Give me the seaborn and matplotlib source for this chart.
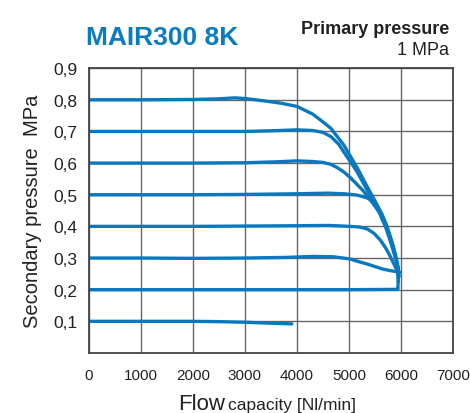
#!/usr/bin/env python3
"""
Curvas de vazão do regulador MAIR300 8K (pressão primária 1 MPa)
"""

import pandas as pd
import matplotlib
matplotlib.use('Agg')
import matplotlib.pyplot as plt
import seaborn as sns

# Valores (vazão Nl/min, pressão MPa)
flow_08 = [0, 1000, 2000, 2500, 2800, 3000, 3350, 3700, 4000, 4300, 4500, 4650, 4900, 5150, 5400,
           5550, 5700, 5820, 5900, 5940, 5950]
pres_08 = [0.800, 0.800, 0.801, 0.803, 0.806, 0.804, 0.797, 0.789, 0.779, 0.755, 0.730, 0.710, 0.657,
           0.587, 0.510, 0.465, 0.410, 0.350, 0.300, 0.260, 0.225]

flow_07 = [0, 1000, 2000, 3000, 3500, 4000, 4300, 4500, 4650, 4800, 4900, 5150, 5400, 5550, 5700,
           5820, 5910, 5940]
pres_07 = [0.700, 0.700, 0.700, 0.700, 0.702, 0.705, 0.703, 0.697, 0.684, 0.660, 0.635, 0.574, 0.500,
           0.455, 0.400, 0.340, 0.290, 0.250]

flow_06 = [0, 1000, 2000, 3000, 3600, 4000, 4300, 4500, 4650, 4770, 4900, 5020, 5270, 5450, 5600,
           5730, 5850, 5930, 5950]
pres_06 = [0.600, 0.600, 0.600, 0.601, 0.604, 0.607, 0.605, 0.602, 0.596, 0.586, 0.572, 0.555, 0.513,
           0.475, 0.440, 0.390, 0.335, 0.280, 0.240]

flow_05 = [0, 1000, 2000, 3000, 4000, 4600, 4900, 5150, 5350, 5450, 5540, 5630, 5730, 5800, 5850,
           5900, 5940, 5960]
pres_05 = [0.500, 0.500, 0.500, 0.501, 0.503, 0.505, 0.503, 0.499, 0.490, 0.480, 0.465, 0.440, 0.400,
           0.365, 0.337, 0.305, 0.274, 0.243]

flow_04 = [0, 1000, 2000, 3000, 4000, 4600, 5020, 5200, 5350, 5480, 5600, 5700, 5790, 5880, 5940, 5960]
pres_04 = [0.400, 0.400, 0.400, 0.401, 0.402, 0.403, 0.400, 0.398, 0.392, 0.378, 0.357, 0.333, 0.306,
           0.275, 0.255, 0.240]

flow_03 = [0, 1000, 2000, 3000, 3800, 4300, 4700, 5020, 5200, 5350, 5500, 5650, 5800, 5980]
pres_03 = [0.300, 0.300, 0.299, 0.300, 0.302, 0.305, 0.304, 0.297, 0.288, 0.281, 0.273, 0.265, 0.260, 0.255]

flow_02 = [0, 1000, 2000, 3000, 4000, 5000, 5900, 5940, 5950]
pres_02 = [0.200, 0.200, 0.200, 0.200, 0.200, 0.200, 0.201, 0.202, 0.270]

flow_01 = [0, 1000, 2000, 2500, 3000, 3500, 3900]
pres_01 = [0.100, 0.100, 0.100, 0.099, 0.097, 0.094, 0.092]

series = {
    '0,8': (flow_08, pres_08), '0,7': (flow_07, pres_07), '0,6': (flow_06, pres_06),
    '0,5': (flow_05, pres_05), '0,4': (flow_04, pres_04), '0,3': (flow_03, pres_03),
    '0,2': (flow_02, pres_02), '0,1': (flow_01, pres_01),
}

x_ticks = [0, 1000, 2000, 3000, 4000, 5000, 6000, 7000]
y_ticks = [0.1, 0.2, 0.3, 0.4, 0.5, 0.6, 0.7, 0.8, 0.9]
y_tick_labels = ['0,1', '0,2', '0,3', '0,4', '0,5', '0,6', '0,7', '0,8', '0,9']

LINE_COLOR = '#0a78be'

rows = []
for name, (xs, ys) in series.items():
    for x, y in zip(xs, ys):
        rows.append({'curva': name, 'vazao': x, 'pressao': y})
df = pd.DataFrame(rows)

sns.set_style('white')
plt.rcParams['font.family'] = ['Liberation Sans', 'DejaVu Sans']

fig = plt.figure(figsize=(4.7, 4.14), dpi=100)
ax = fig.add_axes([0.189, 0.145, 0.775, 0.688])

sns.lineplot(data=df, x='vazao', y='pressao', units='curva', estimator=None, sort=False,
             color=LINE_COLOR, linewidth=2.4, ax=ax, legend=False)

ax.set_xlim(0, 7000)
ax.set_ylim(0, 0.9)
ax.set_xticks(x_ticks)
ax.set_xticklabels([str(t) for t in x_ticks], fontsize=11)
ax.set_yticks(y_ticks)
ax.set_yticklabels(y_tick_labels, fontsize=12.5)
ax.tick_params(length=0, colors='#222222')
ax.tick_params(axis='y', pad=8)
ax.tick_params(axis='x', pad=11)
ax.grid(True, color='#666666', linewidth=1.0)
for sp in ax.spines.values():
    sp.set_color('#444444')
    sp.set_linewidth(1.3)
ax.set_xlabel('')
ax.set_ylabel('Secondary pressure  MPa', fontsize=14.5, color='#222222', labelpad=8)

# Rótulo do eixo x com dois tamanhos
fig.text(0.378, 0.01, 'Flow', fontsize=16, color='#222222', va='baseline', ha='left')
fig.text(0.485, 0.01, 'capacity [Nl/min]', fontsize=12.5, color='#222222', va='baseline', ha='left')

# Títulos
fig.text(0.183, 0.891, 'MAIR300 8K', fontsize=19, fontweight='bold', color='#0a7cc1', ha='left', va='baseline')
fig.text(0.956, 0.918, 'Primary pressure', fontsize=13, fontweight='bold', color='#222222', ha='right', va='baseline')
fig.text(0.956, 0.867, '1 MPa', fontsize=13, color='#222222', ha='right', va='baseline')

plt.savefig('out.png', dpi=100)
plt.close()
